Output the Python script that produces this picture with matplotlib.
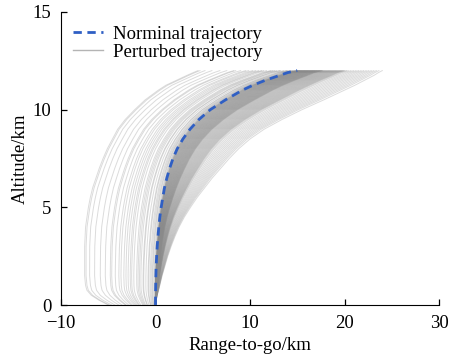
import matplotlib
matplotlib.use('Agg')
import matplotlib.pyplot as plt
from matplotlib.lines import Line2D
import numpy as np

plt.rcParams['font.family'] = ['Liberation Serif', 'DejaVu Serif']
plt.rcParams['axes.unicode_minus'] = True

# Altitude samples (km)
altitude = [0, 0.25, 0.5, 0.75, 1, 1.5, 2, 2.5, 3, 3.5, 4, 4.5, 5, 5.5, 6, 6.5, 7, 7.5, 8,
            8.5, 9, 9.5, 10, 10.5, 11, 11.25, 11.5, 11.75, 11.9, 12]

# Nominal trajectory: range-to-go (km) at each altitude
nominal_range = [0, 0, 0.005, 0.01, 0.02, 0.04, 0.07, 0.12, 0.18, 0.26, 0.35, 0.46, 0.6, 0.77,
                 0.95, 1.2, 1.5, 1.85, 2.3, 2.9, 3.65, 4.6, 5.8, 7.4, 9.2, 10.3, 11.6, 13.1,
                 14.0, 15.0]

# Extreme perturbed trajectories (left / right envelopes)
left_envelope = [-5.0, -6.0, -6.8, -7.25, -7.4, -7.5, -7.5, -7.5, -7.5, -7.45, -7.4, -7.25,
                 -7.1, -6.9, -6.65, -6.3, -5.95, -5.55, -5.1, -4.55, -4.0, -3.2, -2.2, -1.1,
                 0.3, 1.1, 2.2, 3.3, 4.0, 4.5]
right_envelope = [0, 0.08, 0.18, 0.32, 0.45, 0.7, 1.0, 1.3, 1.65, 2.05, 2.5, 3.05, 3.7, 4.4, 5.2,
                  6.0, 6.9, 7.8, 8.8, 10.0, 11.5, 13.4, 15.5, 17.8, 20.0, 21.1, 22.1, 23.1, 23.6,
                  24.0]

# Position of each perturbed trajectory between nominal (0) and envelopes (-1 left, +1 right)
spread = [-1.0, -0.98, -0.93, -0.86, -0.78, -0.71, -0.64, -0.62, -0.57, -0.52, -0.49, -0.45,
          -0.42, -0.39, -0.36, -0.34, -0.31, -0.27, -0.25, -0.23, -0.21, -0.18, -0.17, -0.14,
          -0.11, -0.1, -0.08, -0.065, -0.05, -0.04, -0.025, -0.015, -0.005,
          0.0, 0.01, 0.02, 0.03, 0.04, 0.05, 0.06, 0.07, 0.08, 0.09, 0.1, 0.11, 0.12, 0.13,
          0.14, 0.15, 0.16, 0.17, 0.18, 0.19, 0.2, 0.21, 0.22, 0.23, 0.24, 0.25, 0.26, 0.27,
          0.28, 0.29, 0.3, 0.31, 0.32, 0.33, 0.34, 0.35, 0.36, 0.37, 0.38, 0.39, 0.4, 0.42,
          0.44, 0.46, 0.48, 0.5, 0.52, 0.54, 0.56, 0.58, 0.6, 0.63, 0.66, 0.69, 0.72, 0.75,
          0.78, 0.81, 0.84, 0.87, 0.9, 0.93, 0.96, 1.0,
          0.005, 0.015, 0.025, 0.035, 0.045, 0.055, 0.065, 0.075, 0.085, 0.095, 0.105, 0.115,
          0.125, 0.135, 0.145, 0.155, 0.165, 0.175, 0.185, 0.195, 0.205, 0.215, 0.225, 0.235,
          0.245, 0.255, 0.265, 0.275, 0.285, 0.295, 0.41, 0.43, 0.45, 0.47, 0.49, 0.51, 0.53,
          0.55]

x_ticks = [-10, 0, 10, 20, 30]
y_ticks = [0, 5, 10, 15]

alt = np.array(altitude)
nom = np.array(nominal_range)
lft = np.array(left_envelope)
rgt = np.array(right_envelope)

fig = plt.figure(figsize=(4.56, 3.6), dpi=100)
ax = fig.add_axes([61 / 456, 55 / 360, 378 / 456, 293 / 360])

for w in spread:
    tmpl = lft if w < 0 else rgt
    x = nom + abs(w) * (tmpl - nom)
    ax.plot(x, alt, color='#8a8a8a', alpha=0.3, lw=0.7, zorder=1, solid_joinstyle='round')

ax.plot(nom, alt, color='#2f5fc4', lw=2.0, ls=(0, (3, 2)), zorder=3)

ax.set_xlim(-10, 30)
ax.set_ylim(0, 15)
ax.set_xticks(x_ticks)
ax.set_yticks(y_ticks)
ax.spines['top'].set_visible(False)
ax.spines['right'].set_visible(False)
ax.tick_params(direction='in', length=4, width=0.9, labelsize=13.5, pad=7)
ax.set_xlabel('Range-to-go/km', fontsize=13.5, labelpad=4)
ax.set_ylabel('Altitude/km', fontsize=13.5, labelpad=3)

handles = [Line2D([], [], color='#2f5fc4', lw=2.0, ls=(0, (3, 2))),
           Line2D([], [], color='#b4b4b4', lw=1.0)]
ax.legend(handles, ['Norminal trajectory', 'Perturbed trajectory'], loc='upper left',
          bbox_to_anchor=(0.028, 0.96), frameon=False, fontsize=13.5, handlelength=1.6,
          handletextpad=0.5, labelspacing=0.05, borderaxespad=0, borderpad=0.1)

fig.savefig('out.png', dpi=100)
